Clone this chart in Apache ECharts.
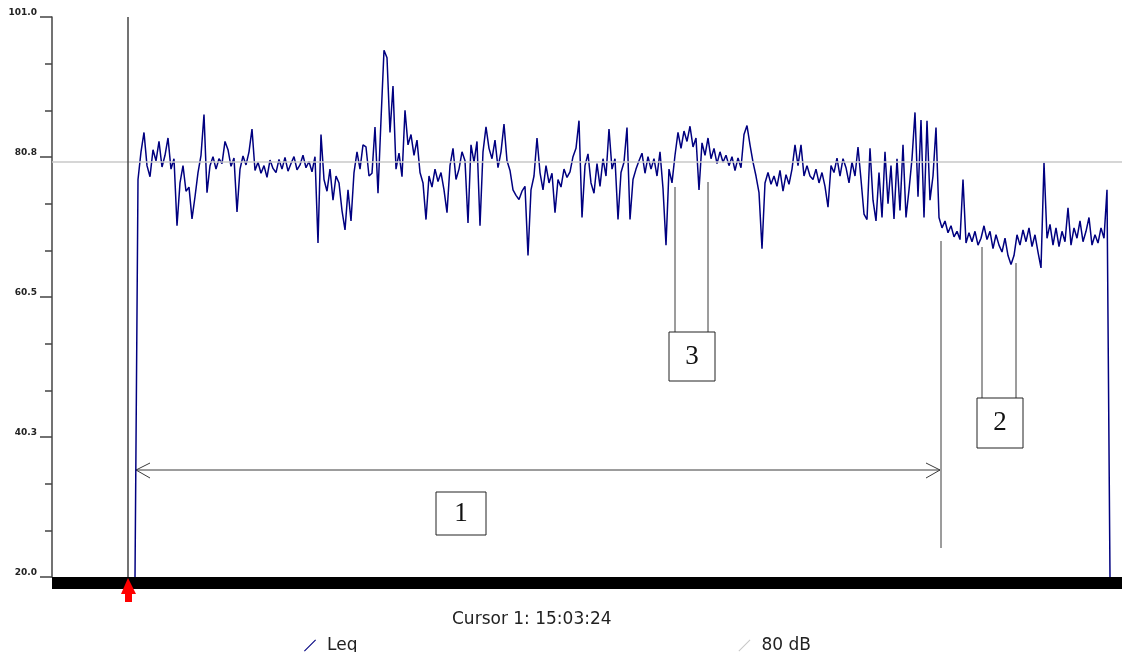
<!DOCTYPE html>
<html>
<head>
<meta charset="utf-8">
<script src="https://cdn.jsdelivr.net/npm/echarts@6/dist/echarts.min.js"></script>
<style>
  html, body { margin: 0; padding: 0; background: #fff; }
  #chart { width: 1122px; height: 652px; }
</style>
</head>
<body>
<div id="chart"></div>
<script>
// Leq samples (dB) at an even step
const leq = [
  20.0, 77.5, 81.5, 84.3, 79.5, 77.9, 81.8, 80.2, 83.0, 79.3,
  81.0, 83.5, 79.0, 80.5, 70.8, 77.0, 79.5, 75.8, 76.4, 71.8,
  75.0, 78.5, 81.0, 86.9, 75.6, 79.5, 80.8, 79.0, 80.5, 79.8,
  83.0, 81.8, 79.4, 80.6, 72.8, 79.0, 80.9, 79.6, 81.5, 84.8,
  78.8, 80.0, 78.4, 79.5, 77.8, 80.3, 79.1, 78.5, 80.4, 79.0,
  80.7, 78.7, 79.8, 80.8, 78.9, 79.6, 81.0, 79.2, 80.1, 78.6,
  80.8, 68.3, 84.0, 77.5, 75.8, 79.0, 74.5, 78.0, 77.0, 73.0,
  70.2, 76.0, 71.5, 78.5, 81.5, 79.0, 82.5, 82.2, 78.0, 78.4,
  85.1, 75.5, 86.1, 96.2, 95.1, 84.3, 91.0, 79.0, 81.3, 77.9,
  87.5, 82.5, 84.0, 81.0, 83.2, 78.5, 77.0, 71.7, 78.0, 76.4,
  79.0, 77.2, 78.5, 76.0, 72.7, 79.5, 82.0, 77.5, 79.0, 81.5,
  80.2, 71.2, 82.5, 80.0, 83.0, 70.8, 81.5, 85.1, 82.0, 80.5,
  83.2, 79.2, 81.5, 85.5, 80.2, 78.8, 76.0, 75.2, 74.6, 75.8,
  76.5, 66.5, 76.0, 78.0, 83.5, 78.5, 76.0, 79.5, 77.0, 78.4,
  72.7, 77.5, 76.4, 79.0, 77.8, 78.6, 80.8, 82.0, 86.0, 72.0,
  79.5, 81.2, 77.0, 75.5, 79.8, 76.5, 80.5, 78.0, 84.8, 79.0,
  80.5, 71.7, 78.5, 80.0, 85.0, 71.7, 77.5, 79.0, 80.2, 81.3,
  78.4, 80.8, 79.0, 80.5, 78.0, 81.5, 76.2, 68.0, 79.0, 77.0,
  81.0, 84.3, 82.0, 84.5, 83.0, 85.2, 82.2, 83.5, 76.0, 82.8,
  81.0, 83.5, 80.5, 82.0, 79.8, 81.5, 80.0, 81.0, 79.5, 80.8,
  78.8, 80.6, 79.2, 84.0, 85.3, 82.5, 80.0, 78.0, 75.6, 67.5,
  77.0, 78.5, 76.8, 78.0, 76.5, 78.8, 75.8, 78.2, 76.8, 79.0,
  82.5, 79.5, 82.5, 78.0, 79.5, 78.0, 77.5, 79.0, 77.0, 78.5,
  76.5, 73.5, 79.5, 78.5, 80.6, 78.0, 80.5, 79.2, 77.0, 80.0,
  78.0, 82.2, 77.5, 72.5, 71.7, 82.0, 74.5, 71.5, 78.5, 72.0,
  81.5, 74.0, 79.5, 71.8, 80.5, 73.0, 82.5, 72.0, 76.0, 80.5,
  87.2, 75.0, 86.1, 72.0, 86.0, 74.5, 78.0, 85.0, 72.0, 70.5,
  71.5, 69.8, 70.8, 69.2, 70.0, 68.8, 77.5, 68.3, 69.8, 68.5,
  70.0, 68.0, 69.0, 70.8, 68.8, 70.0, 67.5, 69.5, 68.0, 67.0,
  69.0, 66.5, 65.2, 66.5, 69.5, 68.0, 70.2, 68.5, 70.5, 67.8,
  69.5, 67.0, 64.7, 79.9, 69.0, 71.0, 68.0, 70.5, 67.8, 70.0,
  68.5, 73.4, 68.0, 70.5, 69.0, 71.5, 68.5, 70.0, 72.0, 68.0,
  69.5, 68.3, 70.5, 69.0, 76.0, 20.0
];
const yTicks = [20, 40.25, 60.5, 80.75, 101];
const yTickLabels = ['20.0', '40.3', '60.5', '80.8', '101.0'];
const refLevel = 80;          // 80 dB reference
const cursorAt = -2.3;        // cursor position, sample units
const cursorText = 'Cursor 1: 15:03:24';
const legendNames = ['Leq', '80 dB'];

const chart = echarts.init(document.getElementById('chart'), null, { renderer: 'canvas' });

const lineCol = '#3a3a3a';
const serif = '"Liberation Serif", "DejaVu Serif", serif';
const sans = '"DejaVu Sans", sans-serif';

function seg(x1, y1, x2, y2) {
  return { type: 'line', shape: { x1, y1, x2, y2 }, style: { stroke: lineCol, lineWidth: 1 }, silent: true };
}
function box(x, y, w, h, label) {
  return [
    { type: 'rect', shape: { x, y, width: w, height: h }, style: { fill: '#fff', stroke: '#222', lineWidth: 1 }, z: 10, silent: true },
    { type: 'text', x: x + w / 2, y: y + h / 2, z: 11, silent: true,
      style: { text: label, fill: '#111', font: '27px ' + serif, align: 'center', verticalAlign: 'middle' } }
  ];
}

chart.setOption({
  animation: false,
  backgroundColor: '#fff',
  grid: { left: 52, right: 0, top: 17, bottom: 75 },
  title: {
    text: cursorText, left: 447, top: 606,
    textStyle: { fontFamily: sans, fontSize: 17, fontWeight: 'normal', color: '#222' }
  },
  legend: {
    data: legendNames, left: 299, top: 632, itemGap: 381,
    itemWidth: 12, itemHeight: 12,
    icon: 'path://M0,12 L12,0 L12.8,0.8 L0.8,12.8 Z',
    textStyle: { fontFamily: sans, fontSize: 17, color: '#222', padding: [0, 0, 0, 6] }
  },
  xAxis: {
    type: 'value', min: -83 / 3, max: 329, offset: 6,
    axisLine: { show: true, onZero: false, lineStyle: { color: '#000', width: 12, cap: 'butt' } },
    axisTick: { show: false }, axisLabel: { show: false }, splitLine: { show: false }
  },
  yAxis: {
    type: 'value', min: yTicks[0], max: yTicks[yTicks.length - 1], interval: 20.25,
    axisLine: { show: true, onZero: false, lineStyle: { color: '#444', width: 1.5 } },
    axisTick: { show: true, length: 12, lineStyle: { color: '#444', width: 1.5 } },
    minorTick: { show: true, splitNumber: 3, length: 7, lineStyle: { color: '#444', width: 1.5 } },
    splitLine: { show: false },
    axisLabel: {
      margin: 15, verticalAlign: 'bottom',
      fontFamily: sans, fontSize: 9, fontWeight: 'bold', color: '#222',
      formatter: v => {
        let k = 0;
        yTicks.forEach((t, i) => { if (Math.abs(t - v) < Math.abs(yTicks[k] - v)) k = i; });
        return yTickLabels[k];
      }
    }
  },
  series: [
    {
      name: legendNames[1], type: 'line', data: [], z: 1,
      itemStyle: { color: '#c8c8c8' }, lineStyle: { color: '#c8c8c8' },
      markLine: {
        silent: true, symbol: ['none', 'none'], label: { show: false },
        lineStyle: { color: '#c8c8c8', width: 1.5, type: 'solid' },
        data: [{ yAxis: refLevel }]
      }
    },
    {
      name: legendNames[0], type: 'line', z: 3,
      data: leq.map((v, i) => [i, v]),
      showSymbol: false, symbol: 'none',
      itemStyle: { color: '#000080' },
      lineStyle: { color: '#000080', width: 1.5 },
      markLine: {
        silent: true, symbol: ['none', 'none'], label: { show: false },
        lineStyle: { color: '#444', width: 1.5, type: 'solid' },
        data: [{ xAxis: cursorAt }]
      }
    }
  ],
  graphic: [
    // span arrow 1
    seg(136, 470, 940, 470),
    { type: 'polyline', shape: { points: [[150, 463], [136, 470], [150, 478]] }, style: { stroke: lineCol, fill: null, lineWidth: 1 }, silent: true },
    { type: 'polyline', shape: { points: [[926, 463], [940, 470], [926, 478]] }, style: { stroke: lineCol, fill: null, lineWidth: 1 }, silent: true },
    seg(941, 241, 941, 548),
    ...box(436, 492, 50, 43, '1'),
    // callout 3
    seg(675, 187, 675, 332),
    seg(708, 182, 708, 332),
    ...box(669, 332, 46, 49, '3'),
    // callout 2
    seg(982, 247, 982, 398),
    seg(1016, 263, 1016, 398),
    ...box(977, 398, 46, 50, '2'),
    // red cursor marker
    { type: 'polygon', silent: true, z: 20,
      shape: { points: [[128, 578], [121, 594], [125, 594], [125, 602], [132, 602], [132, 594], [136, 594]] },
      style: { fill: '#ff0000' } }
  ]
});
</script>
</body>
</html>
